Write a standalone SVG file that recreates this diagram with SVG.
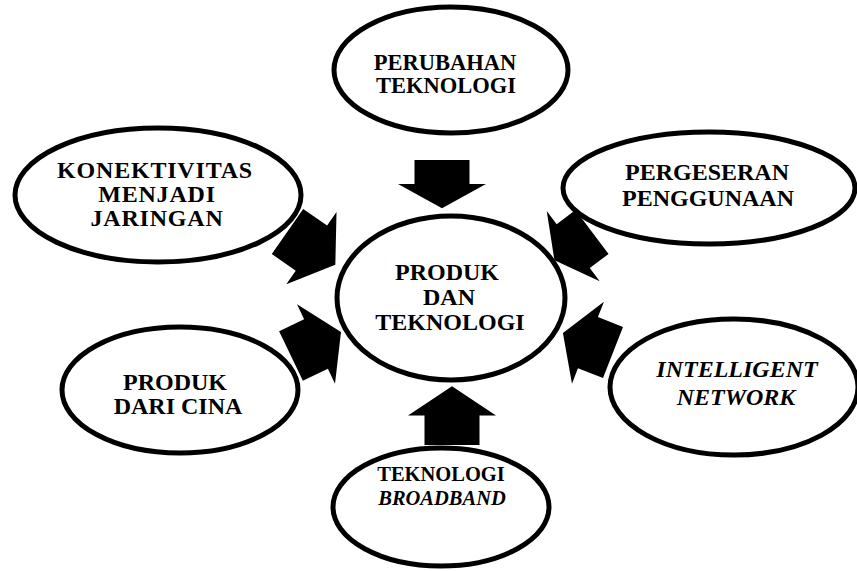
<svg xmlns="http://www.w3.org/2000/svg" xmlns:xlink="http://www.w3.org/1999/xlink" width="857" height="571" viewBox="0 0 857 571">
  <style>
    .node ellipse { fill: #ffffff; stroke: #000000; stroke-width: 5; }
    .node text { font-family: "Liberation Serif", "Times New Roman", serif; font-weight: bold; font-size: 24px; fill: #000000; text-anchor: middle; }
    .node text .it { font-style: italic; }
    #node-perubahan text { font-size: 22.5px; }
    #node-broadband text { font-size: 20.5px; }
    #node-konektivitas text { letter-spacing: 0.8px; }
    .arrow { fill: #000000; }
  </style>
  <defs>
    <!-- block arrow pointing along +x, tail at origin -->
    <path id="blockArrow" d="M0,-27.5 H28 V-44 L56,0 L28,44 V27.5 H0 Z"/>
  </defs>
  <rect width="857" height="571" fill="#ffffff"/>

  <g id="connectors">
    <use class="arrow" xlink:href="#blockArrow" transform="translate(442,160) rotate(90) scale(0.86,1)"/>
    <use class="arrow" xlink:href="#blockArrow" transform="translate(452,445) rotate(-90) scale(1.05,1)"/>
    <use class="arrow" xlink:href="#blockArrow" transform="translate(287.5,231.5) rotate(34.8) scale(1.04,1)"/>
    <use class="arrow" xlink:href="#blockArrow" transform="translate(592,232) rotate(143) scale(0.84,1)"/>
    <use class="arrow" xlink:href="#blockArrow" transform="translate(291,356) rotate(-25.6) scale(0.99,1)"/>
    <use class="arrow" xlink:href="#blockArrow" transform="translate(613,352.5) rotate(201.3) scale(0.96,1)"/>
  </g>

  <g id="node-perubahan" class="node">
    <ellipse cx="451" cy="70" rx="117" ry="63"/>
    <text x="445" y="70">PERUBAHAN</text>
    <text x="446" y="93">TEKNOLOGI</text>
  </g>

  <g id="node-produk-teknologi" class="node">
    <ellipse cx="451" cy="298" rx="114" ry="82"/>
    <text x="447" y="280">PRODUK</text>
    <text x="449" y="305">DAN</text>
    <text x="450" y="330">TEKNOLOGI</text>
  </g>

  <g id="node-konektivitas" class="node">
    <ellipse cx="158" cy="195" rx="143" ry="67"/>
    <text x="155" y="178">KONEKTIVITAS</text>
    <text x="157" y="202">MENJADI</text>
    <text x="157" y="226">JARINGAN</text>
  </g>

  <g id="node-pergeseran" class="node">
    <ellipse cx="709" cy="188" rx="146" ry="56"/>
    <text x="707" y="180">PERGESERAN</text>
    <text x="708" y="206">PENGGUNAAN</text>
  </g>

  <g id="node-produk-cina" class="node">
    <ellipse cx="180" cy="390" rx="118" ry="63"/>
    <text x="175" y="390">PRODUK</text>
    <text x="178" y="414">DARI CINA</text>
  </g>

  <g id="node-intelligent" class="node">
    <ellipse cx="734" cy="387" rx="124" ry="68"/>
    <text x="737" y="377"><tspan class="it">INTELLIGENT</tspan></text>
    <text x="736" y="405"><tspan class="it">NETWORK</tspan></text>
  </g>

  <g id="node-broadband" class="node">
    <ellipse cx="441" cy="507" rx="108" ry="59"/>
    <text x="441" y="481">TEKNOLOGI</text>
    <text x="442" y="505"><tspan class="it">BROADBAND</tspan></text>
  </g>
</svg>
